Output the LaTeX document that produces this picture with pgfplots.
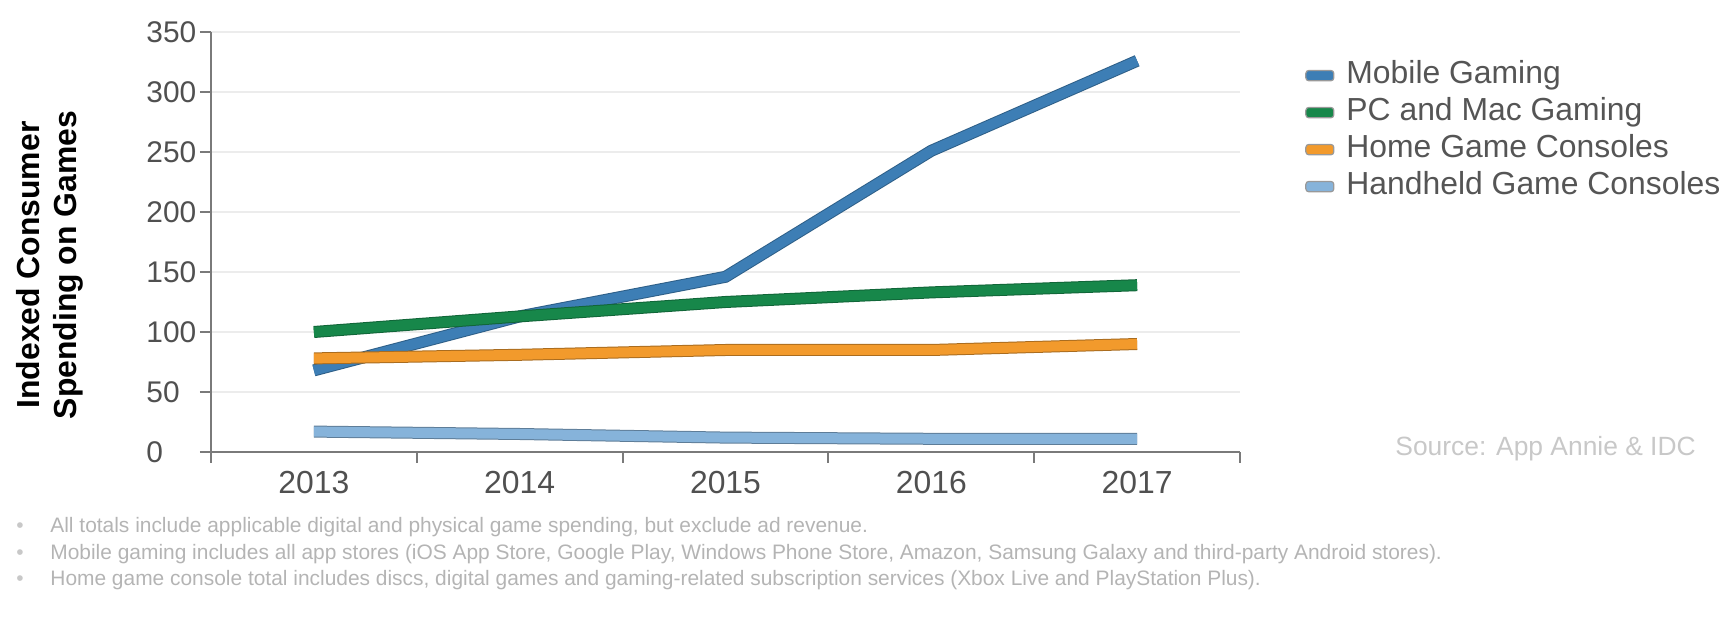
\documentclass[border=0pt]{standalone}
\usepackage{pgfplots}
\pgfplotsset{compat=1.18}
\usepackage{pgfplotstable}
\usepackage{fontspec}
\setmainfont{Liberation Sans}
\definecolor{mob}{HTML}{3D7EB5}
\definecolor{pcg}{HTML}{17874A}
\definecolor{home}{HTML}{F29A2C}
\definecolor{hand}{HTML}{86B3DA}
\definecolor{ticktext}{HTML}{505050}
\definecolor{legtext}{HTML}{555555}
\definecolor{axisgray}{HTML}{7A7A7A}
\definecolor{gridgray}{HTML}{ECECEC}
\definecolor{notegray}{HTML}{B4B4B4}
\definecolor{srcgray}{HTML}{C8C8C8}

\pgfplotstableread{
x   mobile pc  home hand
0.5 68     100 78   17
1.5 113    113 81   15
2.5 146    125 85   12
3.5 251    133 85   11
4.5 326    139 90   11
}\datatable

\begin{document}
\begin{tikzpicture}
\path[use as bounding box] (0bp,0bp) rectangle (867bp,311bp);
\begin{axis}[
  at={(105.5bp,85bp)}, anchor=south west,
  scale only axis, width=514.5bp, height=210bp,
  xmin=0, xmax=5, ymin=0, ymax=350,
  /pgf/number format/assume math mode=true,
  axis lines=left, axis line style={-, draw=axisgray, line width=1.4bp},
  xtick={0,1,2,3,4,5}, xticklabels={},
  extra x ticks={0.5,1.5,2.5,3.5,4.5},
  extra x tick labels={2013,2014,2015,2016,2017},
  extra x tick style={major tick length=0pt, grid=none,
     xticklabel style={font=\fontsize{16}{18}\selectfont, text=ticktext, yshift=-6bp}},
  ytick={0,50,...,350},
  yticklabel style={font=\fontsize{15}{17}\selectfont, text=ticktext, anchor=west, inner sep=0pt, xshift=-27bp},
  tick align=outside, major tick length=5.5bp,
  tick style={draw=axisgray, line width=1bp},
  ymajorgrids, major grid style={draw=gridgray, line width=1bp},
  no markers,
  legend style={at={(1.063,0.764)}, anchor=west, draw=none, fill=none, inner sep=0pt,
     font=\fontsize{16}{18}\selectfont, text=legtext, row sep=1.5bp,
     nodes={inner sep=1bp, text height=11.6bp, text depth=3.4bp},
     /tikz/every odd column/.append style={column sep=5bp}},
  legend cell align=left,
  legend image code/.code={\draw[fill, draw=gray!80, line width=0.6bp, rounded corners=1.5bp] (0bp,-2.6bp) rectangle (14bp,2.6bp);},
]
\addplot[forget plot, mob!75!black, line width=6bp] table[x=x,y=mobile]{\datatable};
\addplot[mob, line width=5bp] table[x=x,y=mobile]{\datatable};
\addlegendentry{Mobile Gaming}
\addplot[forget plot, pcg!75!black, line width=6bp] table[x=x,y=pc]{\datatable};
\addplot[pcg, line width=5bp] table[x=x,y=pc]{\datatable};
\addlegendentry{PC and Mac Gaming}
\addplot[forget plot, home!70!black, line width=6bp] table[x=x,y=home]{\datatable};
\addplot[home, line width=5bp] table[x=x,y=home]{\datatable};
\addlegendentry{Home Game Consoles}
\addplot[forget plot, hand!70!black, line width=6bp] table[x=x,y=hand]{\datatable};
\addplot[hand, line width=5bp] table[x=x,y=hand]{\datatable};
\addlegendentry{Handheld Game Consoles}
\end{axis}
\node[rotate=90, align=center, font=\bfseries\fontsize{16}{18.5}\selectfont] at (24.75bp,178.5bp) {Indexed Consumer\\Spending on Games};
\node[anchor=base west, inner sep=0pt, font=\fontsize{13.25}{15}\selectfont, text=srcgray] at (697.5bp,83bp) {Source: App Annie \& IDC};
\begin{scope}[every node/.style={anchor=base west, inner sep=0pt, font=\fontsize{10.5}{12}\selectfont, text=notegray}]
\node at (8bp,44.5bp) {\textcolor{srcgray}{•}};
\node at (25bp,44.5bp) {All totals include applicable digital and physical game spending, but exclude ad revenue.};
\node at (8bp,31.5bp) {\textcolor{srcgray}{•}};
\node at (25bp,31.5bp) {Mobile gaming includes all app stores (iOS App Store, Google Play, Windows Phone Store, Amazon, Samsung Galaxy and third-party Android stores).};
\node at (8bp,18.5bp) {\textcolor{srcgray}{•}};
\node at (25bp,18.5bp) {Home game console total includes discs, digital games and gaming-related subscription services (Xbox Live and PlayStation Plus).};
\end{scope}
\end{tikzpicture}
\end{document}
